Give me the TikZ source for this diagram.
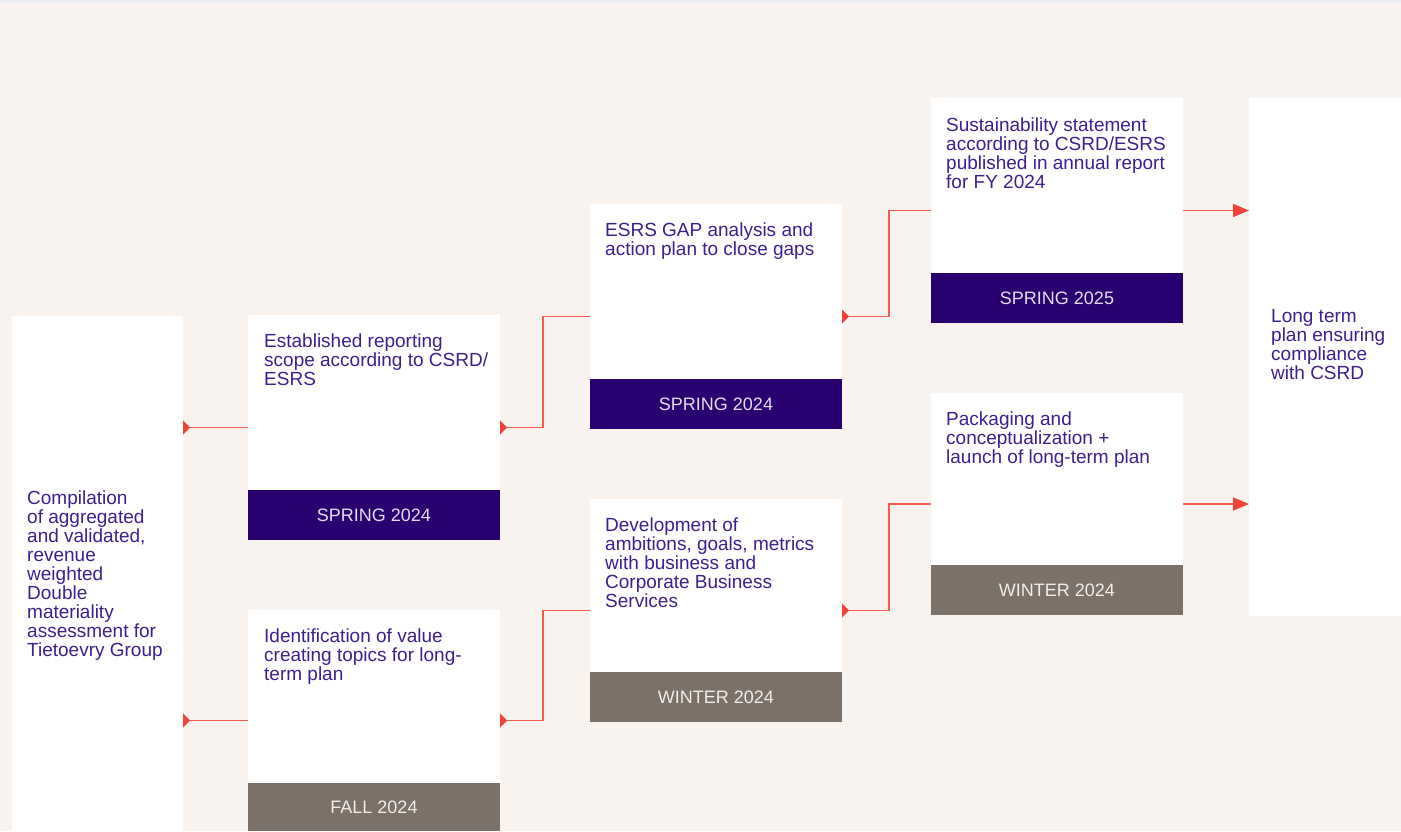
\documentclass[tikz,border=0pt]{standalone}
\usepackage{fontspec}
\setmainfont{Liberation Sans}
\usetikzlibrary{arrows.meta, positioning, calc}

\definecolor{paper}{HTML}{F8F3EF}
\definecolor{topline}{HTML}{EDEDF6}
\definecolor{ink}{HTML}{3F1F8F}
\definecolor{springband}{HTML}{29006F}
\definecolor{winterband}{HTML}{7B7169}
\definecolor{springtext}{HTML}{E4DDF0}
\definecolor{wintertext}{HTML}{F1ECE8}
\definecolor{linkred}{HTML}{F65A50}
\definecolor{tipred}{HTML}{F2433A}

\begin{document}
\begin{tikzpicture}[x=1pt, y=-1pt,
    card/.style={anchor=north west, fill=white, inner sep=0pt, outer sep=0pt},
    band/.style={anchor=south, inner sep=0pt, outer sep=0pt, minimum width=252pt,
        minimum height=50pt, font=\fontsize{18}{19}\selectfont},
    spring/.style={band, fill=springband, text=springtext},
    winter/.style={band, fill=winterband, text=wintertext},
    desc/.style={anchor=base west, inner sep=0pt, align=left, text=ink,
        font=\fontsize{19}{19}\selectfont},
    link/.style={draw=linkred, line width=1.6pt},
    outlink/.style={link, {Triangle[reversed, length=7pt, width=14pt, color=tipred]}-},
    inlink/.style={link, -{Triangle[length=16pt, width=13pt, color=tipred]}}]

    \fill[paper] (0,0) rectangle (1401,831);
    \fill[topline] (0,0) rectangle (1401,3);

    \node[card, minimum width=171pt, minimum height=515pt] (dma) at (12,316) {};
    \node[card, minimum width=252pt, minimum height=225pt] (scope) at (248,315) {};
    \node[card, minimum width=252pt, minimum height=221pt] (topics) at (248,610) {};
    \node[card, minimum width=252pt, minimum height=225pt] (gap) at (590,204) {};
    \node[card, minimum width=252pt, minimum height=223pt] (goals) at (590,499) {};
    \node[card, minimum width=252pt, minimum height=225pt] (stmt) at (931,98) {};
    \node[card, minimum width=252pt, minimum height=222pt] (pack) at (931,393) {};
    \node[card, minimum width=152pt, minimum height=518pt] (plan) at (1249,98) {};

    \node[spring] (scopeband) at (scope.south) {SPRING 2024};
    \node[winter, minimum height=48pt] (topicsband) at (topics.south) {FALL 2024};
    \node[spring] (gapband) at (gap.south) {SPRING 2024};
    \node[winter] (goalsband) at (goals.south) {WINTER 2024};
    \node[spring] (stmtband) at (stmt.south) {SPRING 2025};
    \node[winter] (packband) at (pack.south) {WINTER 2024};

    % text nodes sit on the baseline of their last line
    \node[desc] (dmatext) at ($(dma.north west)+(15,340)$) {Compilation\\of aggregated\\and validated,\\revenue\\weighted\\Double\\materiality\\assessment for\\Tietoevry Group};
    \node[desc] (scopetext) at ($(scope.north west)+(16,70)$) {Established reporting\\scope according to CSRD/\\ESRS};
    \node[desc] (topicstext) at ($(topics.north west)+(16,70)$) {Identification of value\\creating topics for long-\\term plan};
    \node[desc] (gaptext) at ($(gap.north west)+(15,51)$) {ESRS GAP analysis and\\action plan to close gaps};
    \node[desc] (goalstext) at ($(goals.north west)+(15,108)$) {Development of\\ambitions, goals, metrics\\with business and\\Corporate Business\\Services};
    \node[desc] (stmttext) at ($(stmt.north west)+(15,90)$) {Sustainability statement\\according to CSRD/ESRS\\published in annual report\\for FY 2024};
    \node[desc] (packtext) at ($(pack.north west)+(15,70)$) {Packaging and\\conceptualization +\\launch of long-term plan};
    \node[desc] (plantext) at ($(plan.north west)+(22,281)$) {Long term\\plan ensuring\\compliance\\with CSRD};

    \draw[outlink] (dma.east |- scope.west) -- (scope.west);
    \draw[outlink] (dma.east |- topics.west) -- (topics.west);
    \draw[outlink] (scope.east) -- ++(43,0) |- (gap.west);
    \draw[outlink] (topics.east) -- ++(43,0) |- (goals.west);
    \draw[outlink] (gap.east) -- ++(47,0) |- (stmt.west);
    \draw[outlink] (goals.east) -- ++(47,0) |- (pack.west);
    \draw[inlink] (stmt.east) -- (stmt.east -| plan.west);
    \draw[inlink] (pack.east) -- (pack.east -| plan.west);
\end{tikzpicture}
\end{document}
